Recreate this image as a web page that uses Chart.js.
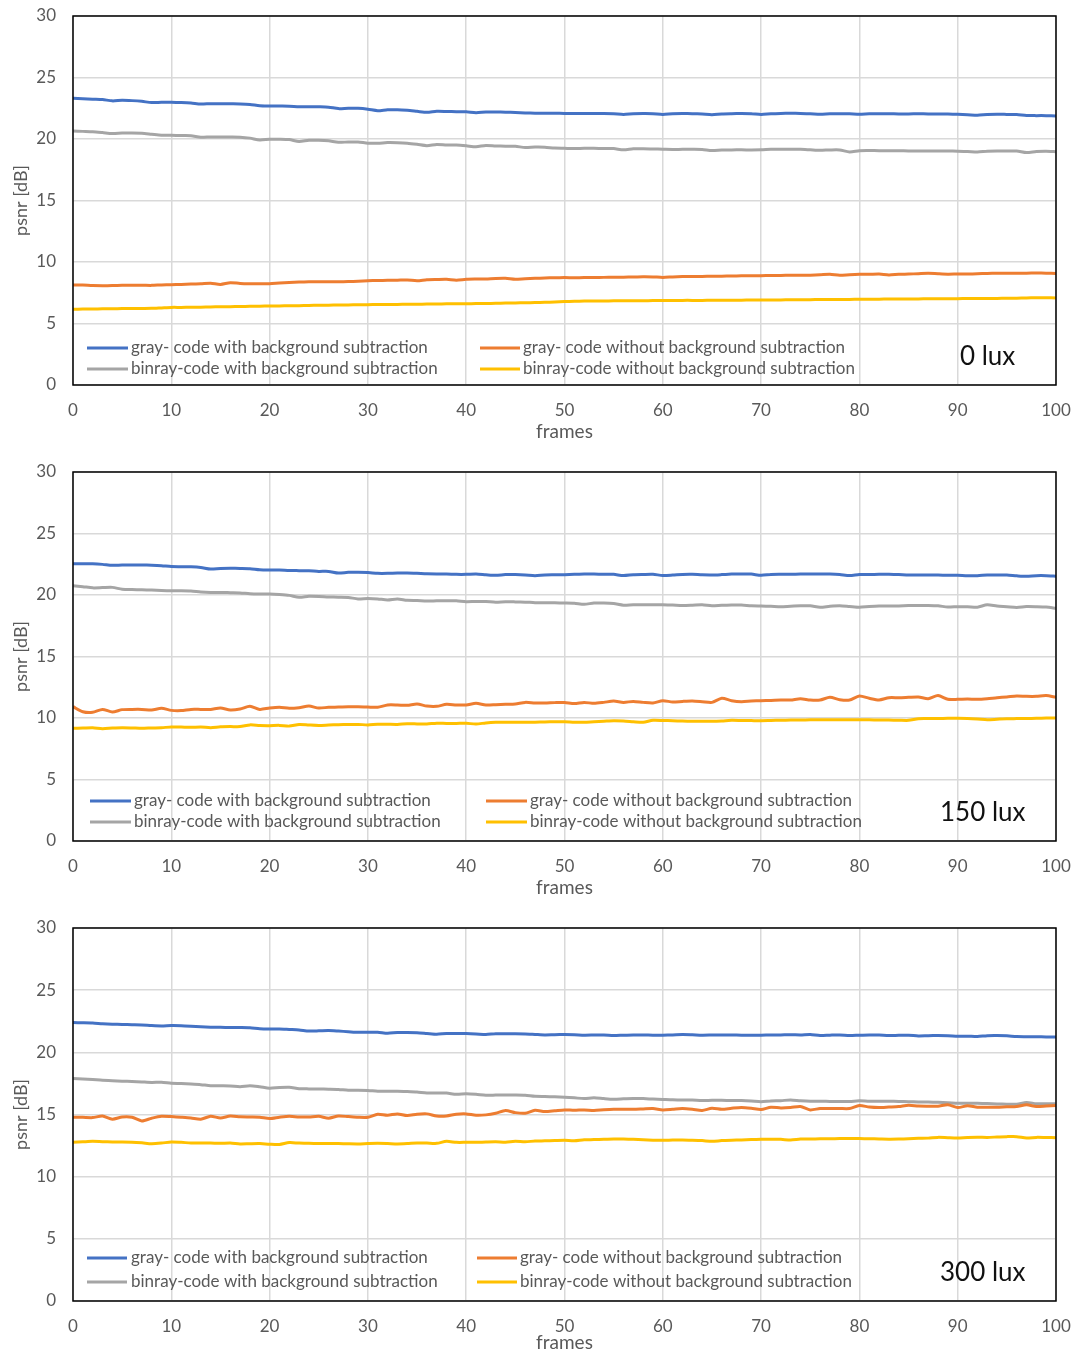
<!DOCTYPE html>
<html>
<head>
<meta charset="utf-8">
<title>psnr over frames</title>
<script src="https://cdn.jsdelivr.net/npm/chart.js@4.4.1/dist/chart.umd.min.js"></script>
<style>
  html, body { margin: 0; padding: 0; background: #ffffff; }
  #wrap { position: relative; width: 1078px; height: 1354px; }
  #wrap canvas { position: absolute; left: 0; }
</style>
</head>
<body>
<div id="wrap">
  <canvas id="c0" width="1078" height="452" style="top:0px"></canvas>
  <canvas id="c150" width="1078" height="452" style="top:456px"></canvas>
  <canvas id="c300" width="1078" height="442" style="top:912px"></canvas>
</div>
<script>
// frame index 0..100 (x categories)
const frames = Array.from({ length: 101 }, (_, i) => i);

const seriesLabels = [
  'gray- code with background subtraction',
  'gray- code without background subtraction',
  'binray-code with background subtraction',
  'binray-code without background subtraction'
];
const luxLabels = ['0 lux', '150 lux', '300 lux'];
const yTicks = [0, 5, 10, 15, 20, 25, 30];
const xTicks = [0, 10, 20, 30, 40, 50, 60, 70, 80, 90, 100];

// ---- 0 lux ----
const lux0GrayWith = [
  23.31, 23.28, 23.24, 23.21, 23.10, 23.15, 23.12, 23.06, 22.96, 22.98,
  22.98, 22.96, 22.92, 22.84, 22.87, 22.87, 22.86, 22.85, 22.81, 22.71,
  22.69, 22.68, 22.67, 22.63, 22.63, 22.62, 22.59, 22.47, 22.50, 22.49,
  22.42, 22.30, 22.38, 22.38, 22.33, 22.25, 22.17, 22.25, 22.24, 22.22,
  22.21, 22.14, 22.19, 22.19, 22.18, 22.16, 22.12, 22.10, 22.10, 22.09,
  22.08, 22.07, 22.08, 22.07, 22.07, 22.05, 21.99, 22.05, 22.07, 22.06,
  22.00, 22.06, 22.07, 22.06, 22.03, 21.98, 22.04, 22.06, 22.07, 22.06,
  21.99, 22.05, 22.08, 22.09, 22.08, 22.06, 22.01, 22.05, 22.06, 22.05,
  22.02, 22.05, 22.06, 22.05, 22.04, 22.04, 22.05, 22.04, 22.04, 22.03,
  22.01, 21.98, 21.93, 21.99, 22.01, 22.00, 21.99, 21.91, 21.90, 21.90,
  21.88
];
const lux0GrayWithout = [
  8.13, 8.12, 8.08, 8.07, 8.08, 8.10, 8.10, 8.11, 8.10, 8.14,
  8.16, 8.18, 8.21, 8.23, 8.27, 8.18, 8.32, 8.26, 8.24, 8.24,
  8.24, 8.29, 8.33, 8.37, 8.39, 8.40, 8.40, 8.40, 8.41, 8.44,
  8.48, 8.50, 8.51, 8.52, 8.54, 8.47, 8.56, 8.58, 8.59, 8.52,
  8.59, 8.61, 8.62, 8.66, 8.67, 8.59, 8.64, 8.67, 8.70, 8.72,
  8.73, 8.72, 8.73, 8.74, 8.75, 8.76, 8.77, 8.78, 8.80, 8.79,
  8.75, 8.79, 8.82, 8.83, 8.83, 8.84, 8.85, 8.86, 8.88, 8.89,
  8.89, 8.90, 8.91, 8.92, 8.92, 8.93, 8.96, 9.00, 8.92, 8.97,
  9.00, 9.00, 9.02, 8.95, 9.00, 9.02, 9.05, 9.08, 9.04, 9.01,
  9.02, 9.02, 9.04, 9.07, 9.08, 9.08, 9.08, 9.09, 9.10, 9.09,
  9.07
];
const lux0BinWith = [
  20.65, 20.62, 20.59, 20.52, 20.44, 20.48, 20.49, 20.47, 20.39, 20.31,
  20.30, 20.28, 20.27, 20.14, 20.17, 20.16, 20.16, 20.15, 20.07, 19.92,
  19.98, 19.98, 19.95, 19.80, 19.90, 19.90, 19.85, 19.73, 19.76, 19.76,
  19.66, 19.65, 19.71, 19.70, 19.66, 19.57, 19.46, 19.56, 19.52, 19.51,
  19.45, 19.37, 19.48, 19.44, 19.42, 19.41, 19.30, 19.34, 19.33, 19.26,
  19.24, 19.22, 19.24, 19.24, 19.23, 19.22, 19.12, 19.20, 19.21, 19.19,
  19.17, 19.15, 19.16, 19.16, 19.15, 19.06, 19.10, 19.11, 19.12, 19.11,
  19.12, 19.16, 19.17, 19.16, 19.16, 19.12, 19.08, 19.11, 19.11, 18.95,
  19.05, 19.06, 19.05, 19.04, 19.04, 19.03, 19.03, 19.03, 19.03, 19.02,
  19.01, 18.99, 18.94, 19.01, 19.03, 19.02, 19.03, 18.90, 18.98, 19.00,
  18.97
];
const lux0BinWithout = [
  6.15, 6.17, 6.18, 6.19, 6.20, 6.21, 6.21, 6.22, 6.23, 6.27,
  6.31, 6.31, 6.32, 6.33, 6.35, 6.37, 6.37, 6.38, 6.40, 6.41,
  6.42, 6.43, 6.44, 6.45, 6.47, 6.48, 6.49, 6.50, 6.51, 6.52,
  6.53, 6.54, 6.54, 6.55, 6.56, 6.56, 6.58, 6.59, 6.60, 6.60,
  6.61, 6.62, 6.63, 6.64, 6.66, 6.67, 6.69, 6.70, 6.72, 6.75,
  6.78, 6.80, 6.82, 6.83, 6.83, 6.84, 6.84, 6.85, 6.85, 6.86,
  6.86, 6.87, 6.88, 6.88, 6.88, 6.89, 6.89, 6.90, 6.90, 6.91,
  6.91, 6.92, 6.92, 6.93, 6.93, 6.94, 6.95, 6.95, 6.96, 6.96,
  6.97, 6.98, 6.98, 6.99, 6.99, 7.00, 7.00, 7.01, 7.01, 7.02,
  7.02, 7.03, 7.03, 7.04, 7.04, 7.05, 7.06, 7.07, 7.10, 7.10,
  7.08
];

// ---- 150 lux ----
const lux150GrayWith = [
  22.55, 22.55, 22.54, 22.49, 22.41, 22.44, 22.44, 22.44, 22.42, 22.38,
  22.31, 22.30, 22.29, 22.24, 22.11, 22.16, 22.17, 22.16, 22.14, 22.05,
  22.03, 22.03, 21.99, 21.98, 21.97, 21.92, 21.92, 21.78, 21.84, 21.84,
  21.82, 21.76, 21.76, 21.79, 21.79, 21.76, 21.72, 21.71, 21.71, 21.68,
  21.68, 21.71, 21.65, 21.60, 21.66, 21.66, 21.63, 21.57, 21.63, 21.64,
  21.65, 21.68, 21.70, 21.70, 21.69, 21.68, 21.58, 21.65, 21.67, 21.68,
  21.59, 21.62, 21.67, 21.68, 21.64, 21.63, 21.66, 21.70, 21.71, 21.70,
  21.60, 21.67, 21.68, 21.68, 21.70, 21.71, 21.71, 21.70, 21.66, 21.58,
  21.66, 21.66, 21.68, 21.68, 21.66, 21.63, 21.63, 21.63, 21.62, 21.61,
  21.60, 21.57, 21.57, 21.62, 21.63, 21.62, 21.56, 21.52, 21.57, 21.57,
  21.53
];
const lux150GrayWithout = [
  10.92, 10.51, 10.46, 10.70, 10.49, 10.68, 10.70, 10.70, 10.65, 10.79,
  10.62, 10.60, 10.70, 10.70, 10.70, 10.81, 10.65, 10.73, 10.95, 10.70,
  10.81, 10.87, 10.79, 10.84, 10.97, 10.81, 10.87, 10.89, 10.92, 10.92,
  10.89, 10.87, 11.06, 11.06, 11.03, 11.14, 10.97, 10.95, 11.11, 11.06,
  11.06, 11.19, 11.06, 11.08, 11.11, 11.14, 11.27, 11.22, 11.22, 11.25,
  11.26, 11.17, 11.27, 11.19, 11.27, 11.38, 11.27, 11.35, 11.27, 11.22,
  11.41, 11.30, 11.35, 11.38, 11.33, 11.27, 11.60, 11.41, 11.33, 11.38,
  11.41, 11.43, 11.46, 11.46, 11.57, 11.46, 11.46, 11.68, 11.49, 11.46,
  11.79, 11.60, 11.46, 11.65, 11.65, 11.68, 11.71, 11.57, 11.82, 11.52,
  11.52, 11.54, 11.52, 11.57, 11.65, 11.71, 11.79, 11.76, 11.76, 11.82,
  11.68
];
const lux150BinWith = [
  20.76, 20.68, 20.58, 20.60, 20.62, 20.47, 20.44, 20.43, 20.40, 20.36,
  20.34, 20.35, 20.33, 20.24, 20.20, 20.21, 20.19, 20.17, 20.10, 20.08,
  20.08, 20.04, 19.97, 19.81, 19.89, 19.88, 19.84, 19.82, 19.80, 19.68,
  19.72, 19.68, 19.60, 19.68, 19.57, 19.55, 19.51, 19.53, 19.54, 19.53,
  19.46, 19.48, 19.47, 19.41, 19.45, 19.44, 19.42, 19.38, 19.37, 19.36,
  19.35, 19.33, 19.25, 19.34, 19.34, 19.30, 19.17, 19.21, 19.20, 19.20,
  19.20, 19.18, 19.15, 19.17, 19.20, 19.12, 19.16, 19.18, 19.18, 19.12,
  19.10, 19.08, 19.05, 19.09, 19.12, 19.12, 19.00, 19.08, 19.12, 19.06,
  19.00, 19.06, 19.10, 19.10, 19.11, 19.14, 19.15, 19.15, 19.12, 19.02,
  19.05, 19.05, 19.01, 19.20, 19.10, 19.05, 18.99, 19.06, 19.05, 19.02,
  18.92
];
const lux150BinWithout = [
  9.16, 9.18, 9.21, 9.13, 9.18, 9.21, 9.19, 9.16, 9.19, 9.21,
  9.27, 9.26, 9.24, 9.27, 9.21, 9.28, 9.30, 9.30, 9.44, 9.39,
  9.38, 9.40, 9.34, 9.47, 9.43, 9.40, 9.43, 9.46, 9.47, 9.48,
  9.44, 9.50, 9.49, 9.48, 9.53, 9.52, 9.51, 9.58, 9.56, 9.56,
  9.57, 9.51, 9.60, 9.65, 9.66, 9.65, 9.65, 9.66, 9.68, 9.69,
  9.70, 9.66, 9.65, 9.70, 9.74, 9.78, 9.76, 9.70, 9.65, 9.81,
  9.80, 9.78, 9.75, 9.73, 9.73, 9.73, 9.76, 9.81, 9.80, 9.79,
  9.78, 9.80, 9.82, 9.83, 9.84, 9.85, 9.86, 9.86, 9.86, 9.86,
  9.86, 9.85, 9.84, 9.83, 9.82, 9.81, 9.94, 9.95, 9.96, 9.97,
  9.97, 9.96, 9.92, 9.86, 9.90, 9.94, 9.95, 9.96, 9.97, 9.99,
  10.00
];

// ---- 300 lux ----
const lux300GrayWith = [
  22.39, 22.38, 22.36, 22.30, 22.26, 22.24, 22.22, 22.20, 22.15, 22.12,
  22.15, 22.14, 22.10, 22.05, 22.02, 22.01, 22.00, 21.99, 21.97, 21.90,
  21.88, 21.88, 21.84, 21.80, 21.72, 21.73, 21.75, 21.71, 21.66, 21.61,
  21.62, 21.62, 21.54, 21.60, 21.60, 21.58, 21.52, 21.46, 21.52, 21.51,
  21.51, 21.48, 21.43, 21.50, 21.49, 21.49, 21.48, 21.44, 21.40, 21.42,
  21.43, 21.42, 21.38, 21.39, 21.40, 21.35, 21.38, 21.40, 21.39, 21.38,
  21.38, 21.40, 21.43, 21.41, 21.38, 21.39, 21.40, 21.39, 21.38, 21.38,
  21.38, 21.39, 21.40, 21.42, 21.40, 21.43, 21.35, 21.38, 21.40, 21.35,
  21.38, 21.40, 21.39, 21.35, 21.37, 21.38, 21.32, 21.34, 21.35, 21.34,
  21.30, 21.30, 21.27, 21.34, 21.35, 21.33, 21.27, 21.26, 21.25, 21.24,
  21.24
];
const lux300GrayWithout = [
  14.78, 14.77, 14.75, 14.88, 14.62, 14.80, 14.78, 14.48, 14.70, 14.86,
  14.83, 14.78, 14.72, 14.62, 14.86, 14.72, 14.88, 14.82, 14.80, 14.78,
  14.67, 14.78, 14.86, 14.80, 14.80, 14.86, 14.70, 14.88, 14.83, 14.78,
  14.78, 15.02, 14.94, 15.05, 14.91, 15.02, 15.05, 14.88, 14.88, 15.02,
  15.05, 14.94, 14.97, 15.10, 15.32, 15.15, 15.10, 15.34, 15.24, 15.30,
  15.37, 15.34, 15.37, 15.32, 15.38, 15.42, 15.42, 15.42, 15.45, 15.48,
  15.37, 15.42, 15.48, 15.42, 15.32, 15.50, 15.42, 15.50, 15.56, 15.50,
  15.40, 15.59, 15.53, 15.56, 15.64, 15.37, 15.48, 15.48, 15.48, 15.48,
  15.72, 15.60, 15.56, 15.60, 15.64, 15.75, 15.68, 15.67, 15.67, 15.78,
  15.56, 15.70, 15.59, 15.59, 15.59, 15.62, 15.64, 15.78, 15.64, 15.68,
  15.72
];
const lux300BinWith = [
  17.89, 17.86, 17.81, 17.75, 17.72, 17.68, 17.66, 17.62, 17.58, 17.59,
  17.52, 17.49, 17.45, 17.40, 17.32, 17.31, 17.30, 17.24, 17.32, 17.23,
  17.11, 17.17, 17.19, 17.08, 17.06, 17.05, 17.04, 17.02, 16.95, 16.96,
  16.94, 16.87, 16.87, 16.87, 16.84, 16.80, 16.73, 16.73, 16.72, 16.63,
  16.66, 16.62, 16.55, 16.56, 16.57, 16.57, 16.55, 16.46, 16.44, 16.42,
  16.38, 16.34, 16.28, 16.35, 16.28, 16.23, 16.26, 16.29, 16.28, 16.24,
  16.21, 16.18, 16.17, 16.16, 16.12, 16.14, 16.14, 16.13, 16.12, 16.08,
  16.02, 16.09, 16.11, 16.17, 16.10, 16.06, 16.07, 16.05, 16.04, 16.04,
  16.10, 16.06, 16.06, 16.06, 16.05, 16.03, 16.01, 16.00, 15.98, 15.95,
  15.90, 15.90, 15.90, 15.88, 15.85, 15.83, 15.82, 15.97, 15.87, 15.87,
  15.87
];
const lux300BinWithout = [
  12.76, 12.80, 12.84, 12.81, 12.79, 12.79, 12.77, 12.72, 12.65, 12.70,
  12.79, 12.76, 12.71, 12.70, 12.70, 12.68, 12.71, 12.63, 12.65, 12.66,
  12.61, 12.59, 12.74, 12.70, 12.68, 12.67, 12.66, 12.66, 12.64, 12.63,
  12.66, 12.68, 12.66, 12.63, 12.66, 12.71, 12.70, 12.68, 12.84, 12.76,
  12.76, 12.76, 12.79, 12.81, 12.77, 12.84, 12.80, 12.87, 12.88, 12.90,
  12.92, 12.89, 12.97, 12.98, 13.00, 13.03, 13.02, 13.00, 12.96, 12.93,
  12.92, 12.94, 12.95, 12.93, 12.90, 12.84, 12.90, 12.93, 12.95, 12.98,
  13.00, 13.00, 13.00, 12.95, 13.02, 13.03, 13.04, 13.05, 13.06, 13.06,
  13.06, 13.05, 13.03, 13.01, 13.02, 13.05, 13.08, 13.10, 13.16, 13.13,
  13.11, 13.16, 13.18, 13.16, 13.19, 13.22, 13.22, 13.11, 13.16, 13.15,
  13.14
];

// line colours, in dataset order
const lineColors = ['#4472C4', '#ED7D31', '#A5A5A5', '#FFC000'];
const FONT = 'Lato, "Liberation Sans", sans-serif';
const TEXT_GREY = '#595959';

// plot frame, in-plot legend and illumination label
const panelDecor = {
  id: 'panelDecor',
  afterDraw(chart, args, o) {
    const { ctx, chartArea: a } = chart;
    ctx.save();
    ctx.strokeStyle = '#000000';
    ctx.lineWidth = 1.5;
    ctx.strokeRect(a.left, a.top, a.right - a.left, a.bottom - a.top);

    ctx.font = '17px ' + FONT;
    ctx.textBaseline = 'middle';
    ctx.textAlign = 'left';
    chart.data.datasets.forEach((ds, i) => {
      const col = o.cols[i % 2];
      const y = o.rows[Math.floor(i / 2)];
      ctx.strokeStyle = ds.borderColor;
      ctx.lineWidth = 3;
      ctx.beginPath();
      ctx.moveTo(col.line[0], y);
      ctx.lineTo(col.line[1], y);
      ctx.stroke();
      ctx.fillStyle = TEXT_GREY;
      ctx.fillText(ds.label, col.text, y);
    });

    ctx.font = '26px ' + FONT;
    ctx.fillStyle = '#111111';
    ctx.fillText(o.lux, o.luxX, o.luxY);
    ctx.restore();
  }
};

// keep tick-label overhang from widening the outer margins
function clearScalePadding(s) {
  s.paddingTop = 0;
  s.paddingBottom = 0;
  s.paddingLeft = 0;
  s.paddingRight = 0;
}

function buildPanel(canvasId, series, lux, geom) {
  const ctx = document.getElementById(canvasId);
  new Chart(ctx, {
    type: 'line',
    data: {
      labels: frames,
      datasets: series.map((vals, i) => ({
        label: seriesLabels[i],
        data: vals,
        borderColor: lineColors[i],
        backgroundColor: lineColors[i],
        borderWidth: 3,
        pointRadius: 0,
        tension: 0.25,
        fill: false
      }))
    },
    options: {
      responsive: false,
      animation: false,
      events: [],
      layout: { padding: { top: 16, right: 22, left: 0, bottom: 0 } },
      plugins: {
        legend: { display: false },
        tooltip: { enabled: false },
        panelDecor: {
          cols: geom.cols, rows: geom.rows,
          lux: lux, luxX: geom.luxX, luxY: geom.luxY
        }
      },
      scales: {
        x: {
          type: 'linear',
          min: 0, max: 100,
          afterBuildTicks: s => { s.ticks = xTicks.map(v => ({ value: v })); },
          afterFit: s => { s.height = geom.xHeight; clearScalePadding(s); },
          grid: { color: '#d9d9d9', lineWidth: 1.5, drawTicks: false },
          border: { display: false },
          ticks: { padding: 15, color: TEXT_GREY, font: { family: FONT, size: 17 }, maxRotation: 0 },
          title: {
            display: true, text: 'frames', color: TEXT_GREY,
            font: { family: FONT, size: 19 },
            padding: { top: 0, bottom: geom.titlePad }
          }
        },
        y: {
          min: 0, max: 30,
          afterBuildTicks: s => { s.ticks = yTicks.map(v => ({ value: v })); },
          afterFit: s => { s.width = 73; clearScalePadding(s); },
          grid: { color: '#d9d9d9', lineWidth: 1.5, drawTicks: false },
          border: { display: false },
          ticks: { padding: 17, color: TEXT_GREY, font: { family: FONT, size: 17 } },
          title: {
            display: true, text: 'psnr [dB]', color: TEXT_GREY,
            font: { family: FONT, size: 18 },
            padding: { top: 10, bottom: 0 }
          }
        }
      }
    },
    plugins: [panelDecor]
  });
}

function drawAll() {
  buildPanel('c0', [lux0GrayWith, lux0GrayWithout, lux0BinWith, lux0BinWithout], luxLabels[0], {
    xHeight: 67, titlePad: 9,
    cols: [{ line: [87, 128], text: 131 }, { line: [480, 520], text: 523 }],
    rows: [348, 369], luxX: 960, luxY: 357
  });
  buildPanel('c150', [lux150GrayWith, lux150GrayWithout, lux150BinWith, lux150BinWithout], luxLabels[1], {
    xHeight: 67, titlePad: 9,
    cols: [{ line: [90, 131], text: 134 }, { line: [486, 527], text: 530 }],
    rows: [345, 366], luxX: 940, luxY: 357
  });
  buildPanel('c300', [lux300GrayWith, lux300GrayWithout, lux300BinWith, lux300BinWithout], luxLabels[2], {
    xHeight: 53, titlePad: 0,
    cols: [{ line: [87, 127], text: 131 }, { line: [477, 517], text: 520 }],
    rows: [346, 370], luxX: 940, luxY: 361
  });
}

const fontsReady = document.fonts && document.fonts.load
  ? Promise.all([document.fonts.load('16px Lato'), document.fonts.load('26px Lato')]).catch(() => {})
  : Promise.resolve();
fontsReady.then(drawAll);
</script>
</body>
</html>
